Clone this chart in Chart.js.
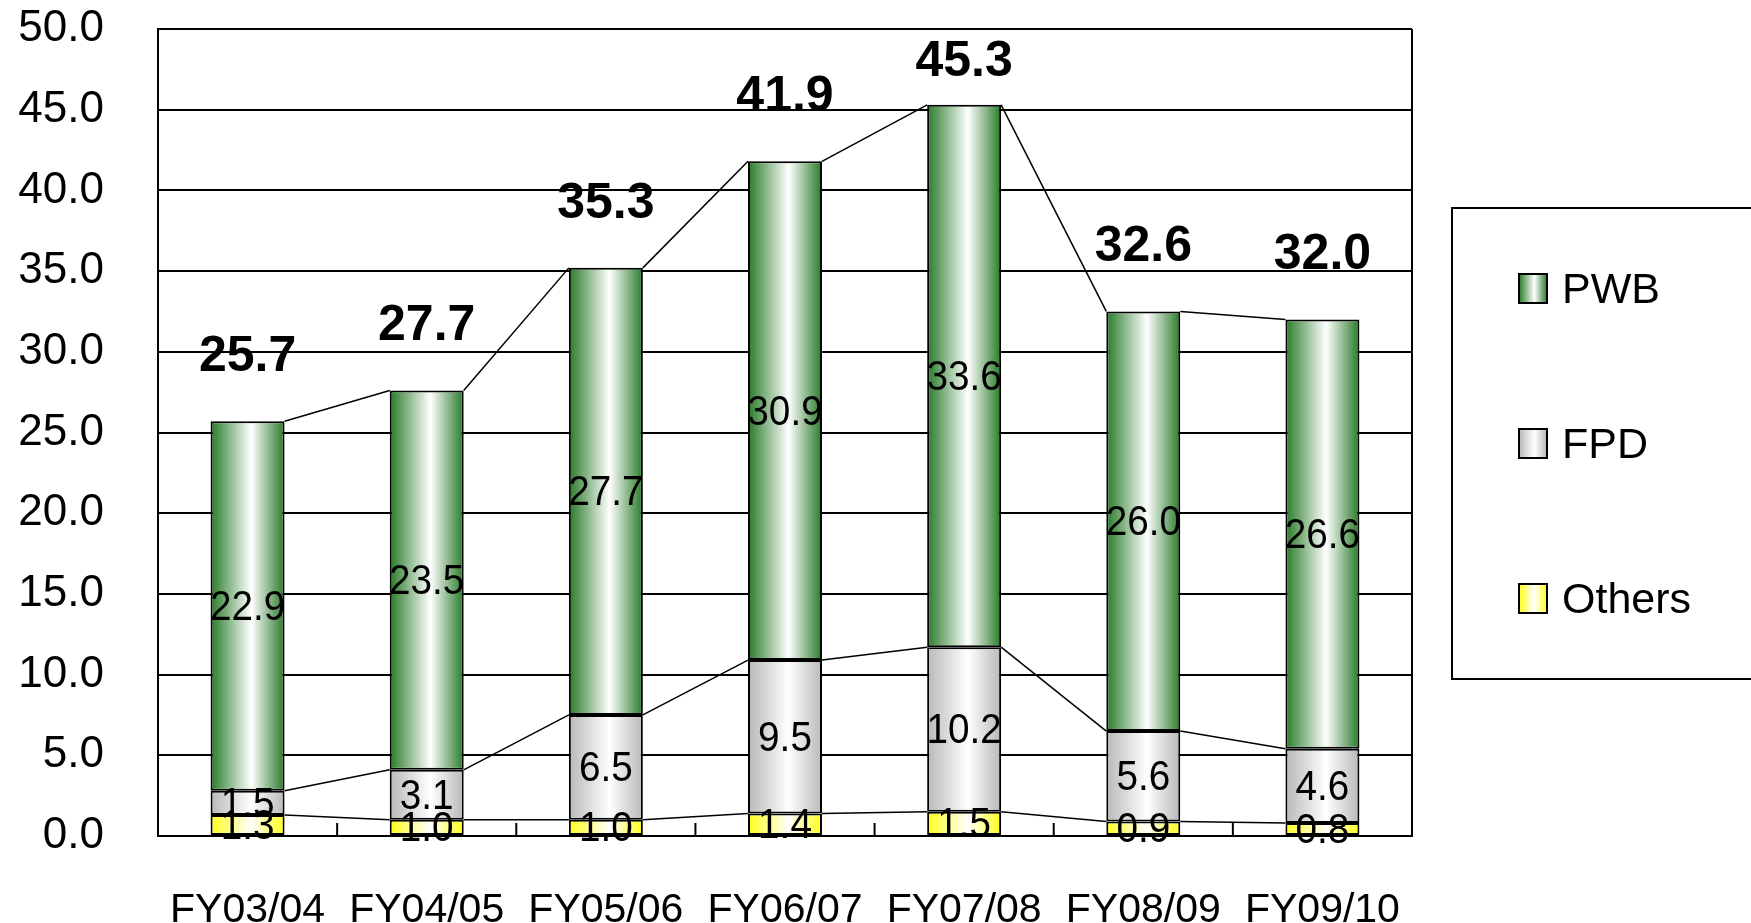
<!DOCTYPE html>
<html>
<head>
<meta charset="utf-8">
<title>PWB / FPD / Others</title>
<script src="https://cdn.jsdelivr.net/npm/chart.js@4/dist/chart.umd.min.js"></script>
<style>
    body { margin: 0; background: #ffffff; }
    #contenedor { width: 1751px; height: 923px; position: relative; }
</style>
</head>
<body>
<div id="contenedor"><canvas id="grafico"></canvas></div>
<script>
const categorias = ['FY03/04', 'FY04/05', 'FY05/06', 'FY06/07', 'FY07/08', 'FY08/09', 'FY09/10'];
const otros = [1.3, 1.0, 1.0, 1.4, 1.5, 0.9, 0.8];
const fpd = [1.5, 3.1, 6.5, 9.5, 10.2, 5.6, 4.6];
const pwb = [22.9, 23.5, 27.7, 30.9, 33.6, 26.0, 26.6];
const totales = [25.7, 27.7, 35.3, 41.9, 45.3, 32.6, 32.0];
const ejeY = { min: 0, max: 50, paso: 5 };

const ANCHO_BARRA = 0.413;
const FUENTE = '"Liberation Sans", Arial, sans-serif';

const colores = { PWB: '#287a28', FPD: '#b8b8b8', Others: '#ffff1a' };

function degradado(ctx, x0, x1, borde) {
    const g = ctx.createLinearGradient(x0, 0, x1, 0);
    g.addColorStop(0, borde);
    g.addColorStop(0.55, '#ffffff');
    g.addColorStop(1, borde);
    return g;
}

function rellenoBarra(borde) {
    return function (context) {
        const chart = context.chart;
        const x = chart.scales.x;
        if (!chart.chartArea || !x || context.dataIndex === undefined) {
            return borde;
        }
        const cx = x.getPixelForValue(context.dataIndex);
        const mitad = (x.width / categorias.length) * ANCHO_BARRA / 2;
        return degradado(chart.ctx, cx - mitad, cx + mitad, borde);
    };
}

// texto un poco estrecho, como la fuente original
function textoEstrecho(ctx, texto, x, y, escala) {
    ctx.save();
    ctx.translate(x, y);
    ctx.scale(escala, 1);
    ctx.fillText(texto, 0, 0);
    ctx.restore();
}

// lineas de serie, marcas del eje, etiquetas y leyenda
const extras = {
    id: 'extras',
    afterDatasetsDraw(chart) {
        const ctx = chart.ctx;
        const area = chart.chartArea;
        const x = chart.scales.x;

        ctx.save();
        ctx.strokeStyle = '#000000';

        // borde derecho del area
        ctx.lineWidth = 2;
        ctx.beginPath();
        ctx.moveTo(area.right, area.top);
        ctx.lineTo(area.right, area.bottom);
        ctx.stroke();

        // marcas hacia dentro entre categorias
        for (let i = 0; i < categorias.length - 1; i++) {
            const bx = (x.getPixelForValue(i) + x.getPixelForValue(i + 1)) / 2;
            ctx.beginPath();
            ctx.moveTo(bx, area.bottom);
            ctx.lineTo(bx, area.bottom - 13);
            ctx.stroke();
        }

        // lineas de serie entre barras
        ctx.lineWidth = 1.5;
        chart.data.datasets.forEach((ds, d) => {
            const barras = chart.getDatasetMeta(d).data;
            for (let i = 0; i < barras.length - 1; i++) {
                const a = barras[i], b = barras[i + 1];
                ctx.beginPath();
                ctx.moveTo(a.x + a.width / 2, a.y);
                ctx.lineTo(b.x - b.width / 2, b.y);
                ctx.stroke();
            }
        });

        // valores dentro de cada segmento
        ctx.fillStyle = '#000000';
        ctx.textAlign = 'center';
        ctx.textBaseline = 'middle';
        ctx.font = '43px ' + FUENTE;
        chart.data.datasets.forEach((ds, d) => {
            chart.getDatasetMeta(d).data.forEach((barra, i) => {
                const centro = (barra.y + barra.base) / 2;
                textoEstrecho(ctx, ds.data[i].toFixed(1), barra.x, centro + 2, 0.9);
            });
        });

        // totales encima de cada barra
        ctx.font = 'bold 50px ' + FUENTE;
        const superiores = chart.getDatasetMeta(chart.data.datasets.length - 1).data;
        superiores.forEach((barra, i) => {
            const y = Math.max(barra.y - 64, area.top + 33);
            ctx.fillText(totales[i].toFixed(1), barra.x, y);
        });

        // leyenda
        const cajaX = area.right + 40;
        const cajaY = 208;
        ctx.lineWidth = 2;
        ctx.strokeRect(cajaX, cajaY, chart.width - cajaX + 10, 471);
        const orden = chart.data.datasets.slice().reverse();
        ctx.textAlign = 'left';
        ctx.font = '43px ' + FUENTE;
        orden.forEach((ds, k) => {
            const cy = cajaY + 80 + k * 155;
            const sx = cajaX + 67;
            ctx.fillStyle = degradado(ctx, sx, sx + 28, colores[ds.label]);
            ctx.fillRect(sx, cy - 14, 28, 29);
            ctx.lineWidth = 2;
            ctx.strokeRect(sx, cy - 14, 28, 29);
            ctx.fillStyle = '#000000';
            ctx.fillText(ds.label, sx + 43, cy + 3);
        });

        ctx.restore();
    }
};

function conjunto(nombre, datos) {
    return {
        label: nombre,
        data: datos,
        backgroundColor: rellenoBarra(colores[nombre]),
        borderColor: '#000000',
        borderWidth: 2,
        borderSkipped: false,
        categoryPercentage: 1,
        barPercentage: ANCHO_BARRA
    };
}

new Chart(document.getElementById('grafico'), {
    type: 'bar',
    data: {
        labels: categorias,
        datasets: [
            conjunto('Others', otros),
            conjunto('FPD', fpd),
            conjunto('PWB', pwb)
        ]
    },
    options: {
        responsive: true,
        maintainAspectRatio: false,
        animation: false,
        layout: { padding: { top: 29, right: 339, left: 0, bottom: 0 } },
        plugins: {
            legend: { display: false },
            tooltip: { enabled: false }
        },
        scales: {
            x: {
                stacked: true,
                grid: { display: false, drawTicks: false },
                border: { display: true, color: '#000000', width: 2 },
                ticks: {
                    color: '#000000',
                    padding: 50,
                    font: { family: FUENTE, size: 41 }
                },
                afterFit(scale) { scale.height = 87; }
            },
            y: {
                stacked: true,
                min: ejeY.min,
                max: ejeY.max,
                grid: { color: '#000000', lineWidth: 2, drawTicks: false },
                border: { display: true, color: '#000000', width: 2 },
                ticks: {
                    stepSize: ejeY.paso,
                    color: '#000000',
                    padding: 54,
                    font: { family: FUENTE, size: 44 },
                    callback: (v) => Number(v).toFixed(1)
                },
                afterFit(scale) {
                    scale.width = 158;
                    scale.paddingTop = 22;
                    scale.paddingBottom = 22;
                }
            }
        }
    },
    plugins: [extras]
});
</script>
</body>
</html>
